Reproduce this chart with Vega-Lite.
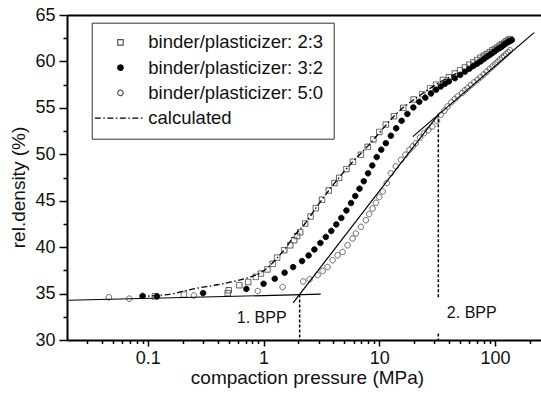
{
 "$schema": "https://vega.github.io/schema/vega-lite/v6.json",
 "width": 474,
 "height": 325,
 "autosize": {"type": "none"},
 "padding": {"left": 67, "top": 15, "right": 0, "bottom": 53},
 "background": "white",
 "config": {
  "view": {"stroke": null},
  "font": "Liberation Sans",
  "axis": {"grid": false, "domainColor": "black", "tickColor": "black", "labelColor": "#111", "titleColor": "#111", "labelFont": "Liberation Sans", "titleFont": "Liberation Sans", "titleFontWeight": "normal", "labelFlush": false, "labelOverlap": false}
 },
 "datasets": {
  "pts": [
   {"s":"binder/plasticizer: 2:3","p":0.115,"d":34.7},{"s":"binder/plasticizer: 2:3","p":0.205,"d":34.9},{"s":"binder/plasticizer: 2:3","p":0.49,"d":35.05},{"s":"binder/plasticizer: 2:3","p":0.5,"d":35.35},{"s":"binder/plasticizer: 2:3","p":0.617,"d":35.9},{"s":"binder/plasticizer: 2:3","p":0.736,"d":36.24},{"s":"binder/plasticizer: 2:3","p":0.857,"d":36.8},{"s":"binder/plasticizer: 2:3","p":0.948,"d":37.15},{"s":"binder/plasticizer: 2:3","p":1.08,"d":37.6},{"s":"binder/plasticizer: 2:3","p":1.2,"d":38.2},{"s":"binder/plasticizer: 2:3","p":1.31,"d":38.87},{"s":"binder/plasticizer: 2:3","p":1.51,"d":39.67},{"s":"binder/plasticizer: 2:3","p":1.7,"d":40.2},{"s":"binder/plasticizer: 2:3","p":1.84,"d":40.75},{"s":"binder/plasticizer: 2:3","p":1.95,"d":41.2},{"s":"binder/plasticizer: 2:3","p":2.07,"d":41.6},{"s":"binder/plasticizer: 2:3","p":2.29,"d":42.55},{"s":"binder/plasticizer: 2:3","p":2.55,"d":43.3},{"s":"binder/plasticizer: 2:3","p":2.83,"d":44.2},{"s":"binder/plasticizer: 2:3","p":3.2,"d":45.1},{"s":"binder/plasticizer: 2:3","p":3.66,"d":46.1},{"s":"binder/plasticizer: 2:3","p":4.1,"d":46.9},{"s":"binder/plasticizer: 2:3","p":4.5,"d":47.46},{"s":"binder/plasticizer: 2:3","p":5.2,"d":48.4},{"s":"binder/plasticizer: 2:3","p":5.92,"d":49.2},{"s":"binder/plasticizer: 2:3","p":6.94,"d":49.95},{"s":"binder/plasticizer: 2:3","p":7.96,"d":50.8},{"s":"binder/plasticizer: 2:3","p":8.9,"d":51.6},{"s":"binder/plasticizer: 2:3","p":10,"d":52.4},{"s":"binder/plasticizer: 2:3","p":11.4,"d":53.2},{"s":"binder/plasticizer: 2:3","p":13.4,"d":54.1},{"s":"binder/plasticizer: 2:3","p":16.1,"d":55.0},{"s":"binder/plasticizer: 2:3","p":19.8,"d":55.9},{"s":"binder/plasticizer: 2:3","p":23.5,"d":56.47},{"s":"binder/plasticizer: 2:3","p":27.5,"d":57.1},{"s":"binder/plasticizer: 2:3","p":31,"d":57.5},{"s":"binder/plasticizer: 2:3","p":35.5,"d":58.0},{"s":"binder/plasticizer: 2:3","p":40,"d":58.3},{"s":"binder/plasticizer: 2:3","p":45,"d":58.7},{"s":"binder/plasticizer: 2:3","p":50,"d":59.05},{"s":"binder/plasticizer: 2:3","p":55,"d":59.35},{"s":"binder/plasticizer: 2:3","p":60,"d":59.65},{"s":"binder/plasticizer: 2:3","p":65,"d":59.9},{"s":"binder/plasticizer: 2:3","p":70,"d":60.15},{"s":"binder/plasticizer: 2:3","p":75,"d":60.4},{"s":"binder/plasticizer: 2:3","p":80,"d":60.6},{"s":"binder/plasticizer: 2:3","p":85,"d":60.8},{"s":"binder/plasticizer: 2:3","p":90,"d":61.0},{"s":"binder/plasticizer: 2:3","p":95,"d":61.2},{"s":"binder/plasticizer: 2:3","p":100,"d":61.35},{"s":"binder/plasticizer: 2:3","p":105,"d":61.5},{"s":"binder/plasticizer: 2:3","p":110,"d":61.7},{"s":"binder/plasticizer: 2:3","p":115,"d":61.85},{"s":"binder/plasticizer: 2:3","p":120,"d":62.0},{"s":"binder/plasticizer: 2:3","p":125,"d":62.15},{"s":"binder/plasticizer: 2:3","p":130,"d":62.3},{"s":"binder/plasticizer: 2:3","p":135,"d":62.4},
   {"s":"binder/plasticizer: 3:2","p":0.09,"d":34.75},{"s":"binder/plasticizer: 3:2","p":0.12,"d":34.7},{"s":"binder/plasticizer: 3:2","p":0.3,"d":35.05},{"s":"binder/plasticizer: 3:2","p":0.71,"d":35.5},{"s":"binder/plasticizer: 3:2","p":1.0,"d":36.05},{"s":"binder/plasticizer: 3:2","p":1.25,"d":36.6},{"s":"binder/plasticizer: 3:2","p":1.52,"d":37.25},{"s":"binder/plasticizer: 3:2","p":1.8,"d":37.85},{"s":"binder/plasticizer: 3:2","p":2.15,"d":38.5},{"s":"binder/plasticizer: 3:2","p":2.45,"d":39.1},{"s":"binder/plasticizer: 3:2","p":2.75,"d":39.75},{"s":"binder/plasticizer: 3:2","p":3.1,"d":40.45},{"s":"binder/plasticizer: 3:2","p":3.45,"d":41.1},{"s":"binder/plasticizer: 3:2","p":3.85,"d":41.75},{"s":"binder/plasticizer: 3:2","p":4.25,"d":42.45},{"s":"binder/plasticizer: 3:2","p":4.7,"d":43.15},{"s":"binder/plasticizer: 3:2","p":5.2,"d":43.95},{"s":"binder/plasticizer: 3:2","p":5.7,"d":44.75},{"s":"binder/plasticizer: 3:2","p":6.2,"d":45.5},{"s":"binder/plasticizer: 3:2","p":6.75,"d":46.3},{"s":"binder/plasticizer: 3:2","p":7.35,"d":47.1},{"s":"binder/plasticizer: 3:2","p":8.0,"d":47.95},{"s":"binder/plasticizer: 3:2","p":8.7,"d":48.8},{"s":"binder/plasticizer: 3:2","p":9.5,"d":49.7},{"s":"binder/plasticizer: 3:2","p":10.4,"d":50.5},{"s":"binder/plasticizer: 3:2","p":11.4,"d":51.2},{"s":"binder/plasticizer: 3:2","p":12.6,"d":52.0},{"s":"binder/plasticizer: 3:2","p":14.0,"d":52.8},{"s":"binder/plasticizer: 3:2","p":15.6,"d":53.6},{"s":"binder/plasticizer: 3:2","p":17.5,"d":54.35},{"s":"binder/plasticizer: 3:2","p":19.7,"d":55.05},{"s":"binder/plasticizer: 3:2","p":22.2,"d":55.65},{"s":"binder/plasticizer: 3:2","p":25,"d":56.1},{"s":"binder/plasticizer: 3:2","p":28,"d":56.55},{"s":"binder/plasticizer: 3:2","p":31,"d":56.95},{"s":"binder/plasticizer: 3:2","p":34,"d":57.3},{"s":"binder/plasticizer: 3:2","p":37,"d":57.6},{"s":"binder/plasticizer: 3:2","p":40,"d":57.85},{"s":"binder/plasticizer: 3:2","p":45,"d":58.2},{"s":"binder/plasticizer: 3:2","p":50,"d":58.55},{"s":"binder/plasticizer: 3:2","p":55,"d":58.9},{"s":"binder/plasticizer: 3:2","p":60,"d":59.2},{"s":"binder/plasticizer: 3:2","p":65,"d":59.5},{"s":"binder/plasticizer: 3:2","p":70,"d":59.75},{"s":"binder/plasticizer: 3:2","p":75,"d":60.0},{"s":"binder/plasticizer: 3:2","p":80,"d":60.25},{"s":"binder/plasticizer: 3:2","p":85,"d":60.5},{"s":"binder/plasticizer: 3:2","p":90,"d":60.7},{"s":"binder/plasticizer: 3:2","p":95,"d":60.9},{"s":"binder/plasticizer: 3:2","p":100,"d":61.1},{"s":"binder/plasticizer: 3:2","p":105,"d":61.3},{"s":"binder/plasticizer: 3:2","p":110,"d":61.45},{"s":"binder/plasticizer: 3:2","p":115,"d":61.6},{"s":"binder/plasticizer: 3:2","p":120,"d":61.8},{"s":"binder/plasticizer: 3:2","p":125,"d":61.95},{"s":"binder/plasticizer: 3:2","p":130,"d":62.1},{"s":"binder/plasticizer: 3:2","p":135,"d":62.2},{"s":"binder/plasticizer: 3:2","p":140,"d":62.3},
   {"s":"binder/plasticizer: 5:0","p":0.046,"d":34.6},{"s":"binder/plasticizer: 5:0","p":0.069,"d":34.45},{"s":"binder/plasticizer: 5:0","p":0.25,"d":34.8},{"s":"binder/plasticizer: 5:0","p":0.89,"d":35.27},{"s":"binder/plasticizer: 5:0","p":1.46,"d":35.7},{"s":"binder/plasticizer: 5:0","p":2.2,"d":36.3},{"s":"binder/plasticizer: 5:0","p":2.5,"d":36.55},{"s":"binder/plasticizer: 5:0","p":2.93,"d":37.0},{"s":"binder/plasticizer: 5:0","p":3.24,"d":37.43},{"s":"binder/plasticizer: 5:0","p":3.57,"d":37.86},{"s":"binder/plasticizer: 5:0","p":3.95,"d":38.59},{"s":"binder/plasticizer: 5:0","p":4.36,"d":39.13},{"s":"binder/plasticizer: 5:0","p":4.82,"d":39.48},{"s":"binder/plasticizer: 5:0","p":5.32,"d":40.2},{"s":"binder/plasticizer: 5:0","p":5.88,"d":40.93},{"s":"binder/plasticizer: 5:0","p":6.28,"d":41.47},{"s":"binder/plasticizer: 5:0","p":6.94,"d":42.18},{"s":"binder/plasticizer: 5:0","p":7.66,"d":42.9},{"s":"binder/plasticizer: 5:0","p":8.18,"d":43.56},{"s":"binder/plasticizer: 5:0","p":8.76,"d":44.17},{"s":"binder/plasticizer: 5:0","p":9.36,"d":44.78},{"s":"binder/plasticizer: 5:0","p":10.0,"d":45.4},{"s":"binder/plasticizer: 5:0","p":10.7,"d":46.0},{"s":"binder/plasticizer: 5:0","p":11.6,"d":46.9},{"s":"binder/plasticizer: 5:0","p":12.6,"d":47.95},{"s":"binder/plasticizer: 5:0","p":13.9,"d":48.7},{"s":"binder/plasticizer: 5:0","p":15.4,"d":49.4},{"s":"binder/plasticizer: 5:0","p":16.8,"d":49.95},{"s":"binder/plasticizer: 5:0","p":18.2,"d":50.47},{"s":"binder/plasticizer: 5:0","p":19.5,"d":50.85},{"s":"binder/plasticizer: 5:0","p":20.7,"d":51.2},{"s":"binder/plasticizer: 5:0","p":22.5,"d":51.8},{"s":"binder/plasticizer: 5:0","p":24.4,"d":52.27},{"s":"binder/plasticizer: 5:0","p":26.5,"d":52.6},{"s":"binder/plasticizer: 5:0","p":28.8,"d":53.0},{"s":"binder/plasticizer: 5:0","p":31.5,"d":53.6},{"s":"binder/plasticizer: 5:0","p":34,"d":54.25},{"s":"binder/plasticizer: 5:0","p":36.5,"d":54.7},{"s":"binder/plasticizer: 5:0","p":38.9,"d":55.15},{"s":"binder/plasticizer: 5:0","p":42,"d":55.6},{"s":"binder/plasticizer: 5:0","p":45,"d":55.95},{"s":"binder/plasticizer: 5:0","p":47.5,"d":56.23},{"s":"binder/plasticizer: 5:0","p":52,"d":56.6},{"s":"binder/plasticizer: 5:0","p":55,"d":56.9},{"s":"binder/plasticizer: 5:0","p":58,"d":57.13},{"s":"binder/plasticizer: 5:0","p":62,"d":57.45},{"s":"binder/plasticizer: 5:0","p":66,"d":57.75},{"s":"binder/plasticizer: 5:0","p":70.8,"d":58.03},{"s":"binder/plasticizer: 5:0","p":75,"d":58.3},{"s":"binder/plasticizer: 5:0","p":80,"d":58.6},{"s":"binder/plasticizer: 5:0","p":85,"d":58.9},{"s":"binder/plasticizer: 5:0","p":90,"d":59.2},{"s":"binder/plasticizer: 5:0","p":95,"d":59.45},{"s":"binder/plasticizer: 5:0","p":100,"d":59.7},{"s":"binder/plasticizer: 5:0","p":105,"d":59.95},{"s":"binder/plasticizer: 5:0","p":110,"d":60.2},{"s":"binder/plasticizer: 5:0","p":115,"d":60.4},{"s":"binder/plasticizer: 5:0","p":120,"d":60.6},{"s":"binder/plasticizer: 5:0","p":125,"d":60.8},{"s":"binder/plasticizer: 5:0","p":130,"d":61.0},{"s":"binder/plasticizer: 5:0","p":135,"d":61.2}
  ],
  "calc": [
   {"p":0.085,"d":34.65},{"p":0.104,"d":34.74},{"p":0.16,"d":34.95},{"p":0.247,"d":35.5},{"p":0.4,"d":35.95},{"p":0.547,"d":36.3},{"p":0.75,"d":36.75},{"p":0.93,"d":37.2},{"p":1.1,"d":37.85},{"p":1.3,"d":38.8},{"p":1.55,"d":39.9},{"p":1.81,"d":41.1},{"p":2.3,"d":42.6},{"p":2.83,"d":44.2},{"p":3.66,"d":46.1},{"p":4.5,"d":47.5},{"p":5.9,"d":49.2},{"p":8,"d":50.9},{"p":10,"d":52.3},{"p":13.4,"d":54.1},{"p":16,"d":55.0},{"p":20,"d":55.9},{"p":27.5,"d":57.1},{"p":36,"d":58.0},{"p":47,"d":58.75}
  ],
  "fits": [
   {"seg":"low","p":0.0205,"d":34.28},{"seg":"low","p":3.12,"d":34.93},
   {"seg":"steep","p":1.8,"d":34.0},{"seg":"steep","p":32.5,"d":54.3},
   {"seg":"high","p":19.5,"d":51.9},{"seg":"high","p":218,"d":63.1}
  ],
  "bpp": [
   {"p":2.05,"d1":34.9,"d2":30},{"p":32.4,"d1":54.3,"d2":34.5},{"p":32.4,"d1":30.7,"d2":30}
  ],
  "labels": [
   {"t":"1. BPP","p":0.963,"d":31.8},{"t":"2. BPP","p":63,"d":32.34}
  ]
 },
 "layer": [
  {
   "data": {"name": "pts"},
   "mark": {"type": "point", "size": 30, "opacity": 1, "strokeWidth": 1},
   "encoding": {
    "x": {"field": "p", "type": "quantitative", "scale": {"type": "log", "domain": [0.02, 250], "nice": false},
     "axis": {"values": [0.1, 1, 10, 100], "format": "~g", "tickSize": 6, "tickWidth": 1.5, "domainWidth": 2, "labelFontSize": 18, "labelPadding": 3, "title": "compaction pressure (MPa)", "titleFontSize": 19, "titleX": 240, "titleY": 43, "titleBaseline": "alphabetic", "titleAnchor": "middle"}},
    "y": {"field": "d", "type": "quantitative", "scale": {"domain": [30, 65], "nice": false, "zero": false},
     "axis": {"values": [30, 35, 40, 45, 50, 55, 60, 65], "tickSize": 8, "tickWidth": 1.5, "domainWidth": 2, "labelFontSize": 18, "labelPadding": 4, "title": "rel.density (%)", "titleFontSize": 19, "titleX": -49, "titleY": 172, "titleAngle": 270, "titleBaseline": "middle", "titleAlign": "center"}},
    "shape": {"field": "s", "type": "nominal",
     "scale": {"domain": ["binder/plasticizer: 2:3", "binder/plasticizer: 3:2", "binder/plasticizer: 5:0", "calculated"], "range": ["square", "circle", "circle", "M-9.35,0H8.4"]},
     "legend": {"orient": "none", "legendX": 24.7, "legendY": 7.7, "padding": 10.5, "symbolOffset": 9, "labelOffset": 18.6, "rowPadding": 6.2, "labelFontSize": 18.5, "labelFont": "Liberation Sans", "labelColor": "#111", "labelLimit": 400, "symbolSize": 30, "symbolOpacity": 1, "symbolStrokeWidth": 1.2, "title": null, "strokeColor": "#333",
      "labelExpr": "datum.label + '\u00a0\u00a0\u00a0'"}},
    "fill": {"field": "s", "type": "nominal",
     "scale": {"domain": ["binder/plasticizer: 2:3", "binder/plasticizer: 3:2", "binder/plasticizer: 5:0", "calculated"], "range": ["transparent", "black", "transparent", "transparent"]}},
    "stroke": {"field": "s", "type": "nominal",
     "scale": {"domain": ["binder/plasticizer: 2:3", "binder/plasticizer: 3:2", "binder/plasticizer: 5:0", "calculated"], "range": ["#555", "black", "#555", "black"]}},
    "strokeDash": {"field": "s", "type": "nominal",
     "scale": {"domain": ["binder/plasticizer: 2:3", "binder/plasticizer: 3:2", "binder/plasticizer: 5:0", "calculated"], "range": [[1, 0], [1, 0], [1, 0], [6, 2.5, 1.5, 2.5]]}}
   }
  },
  {
   "data": {"name": "calc"},
   "mark": {"type": "line", "stroke": "black", "strokeWidth": 1.3, "strokeDash": [6, 2.5, 1.5, 2.5], "interpolate": "monotone"},
   "encoding": {
    "x": {"field": "p", "type": "quantitative", "scale": {"type": "log", "domain": [0.02, 250], "nice": false},
     "axis": {"orient": "bottom", "values": [0.03,0.04,0.05,0.06,0.07,0.08,0.09,0.2,0.3,0.4,0.5,0.6,0.7,0.8,0.9,2,3,4,5,6,7,8,9,20,30,40,50,60,70,80,90,200], "labels": false, "domain": false, "tickSize": 3.5, "tickWidth": 1.5, "title": null}},
    "y": {"field": "d", "type": "quantitative", "scale": {"domain": [30, 65], "nice": false, "zero": false},
     "axis": {"orient": "left", "values": [32.5, 37.5, 42.5, 47.5, 52.5, 57.5, 62.5], "labels": false, "domain": false, "tickSize": 4, "tickWidth": 1.5, "title": null}}
   }
  },
  {
   "data": {"name": "fits"},
   "mark": {"type": "line", "stroke": "black", "strokeWidth": 1.2},
   "encoding": {
    "x": {"field": "p", "type": "quantitative", "scale": {"type": "log", "domain": [0.02, 250], "nice": false},
     "axis": {"orient": "top", "labels": false, "ticks": false, "domainWidth": 2, "title": null}},
    "y": {"field": "d", "type": "quantitative", "scale": {"domain": [30, 65], "nice": false, "zero": false}, "axis": null},
    "detail": {"field": "seg"}
   }
  },
  {
   "data": {"name": "bpp"},
   "mark": {"type": "rule", "stroke": "black", "strokeWidth": 1.5, "strokeDash": [3, 2]},
   "encoding": {
    "x": {"field": "p", "type": "quantitative", "scale": {"type": "log", "domain": [0.02, 250], "nice": false}, "axis": null},
    "y": {"field": "d1", "type": "quantitative", "scale": {"domain": [30, 65], "nice": false, "zero": false}, "axis": null},
    "y2": {"field": "d2"}
   }
  },
  {
   "data": {"name": "labels"},
   "mark": {"type": "text", "fontSize": 16, "align": "center", "baseline": "alphabetic", "color": "#111", "font": "Liberation Sans"},
   "encoding": {
    "x": {"field": "p", "type": "quantitative", "scale": {"type": "log", "domain": [0.02, 250], "nice": false}, "axis": null},
    "y": {"field": "d", "type": "quantitative", "scale": {"domain": [30, 65], "nice": false, "zero": false}, "axis": null},
    "text": {"field": "t"}
   }
  }
 ],
 "resolve": {"axis": {"x": "independent", "y": "independent"}}
}
